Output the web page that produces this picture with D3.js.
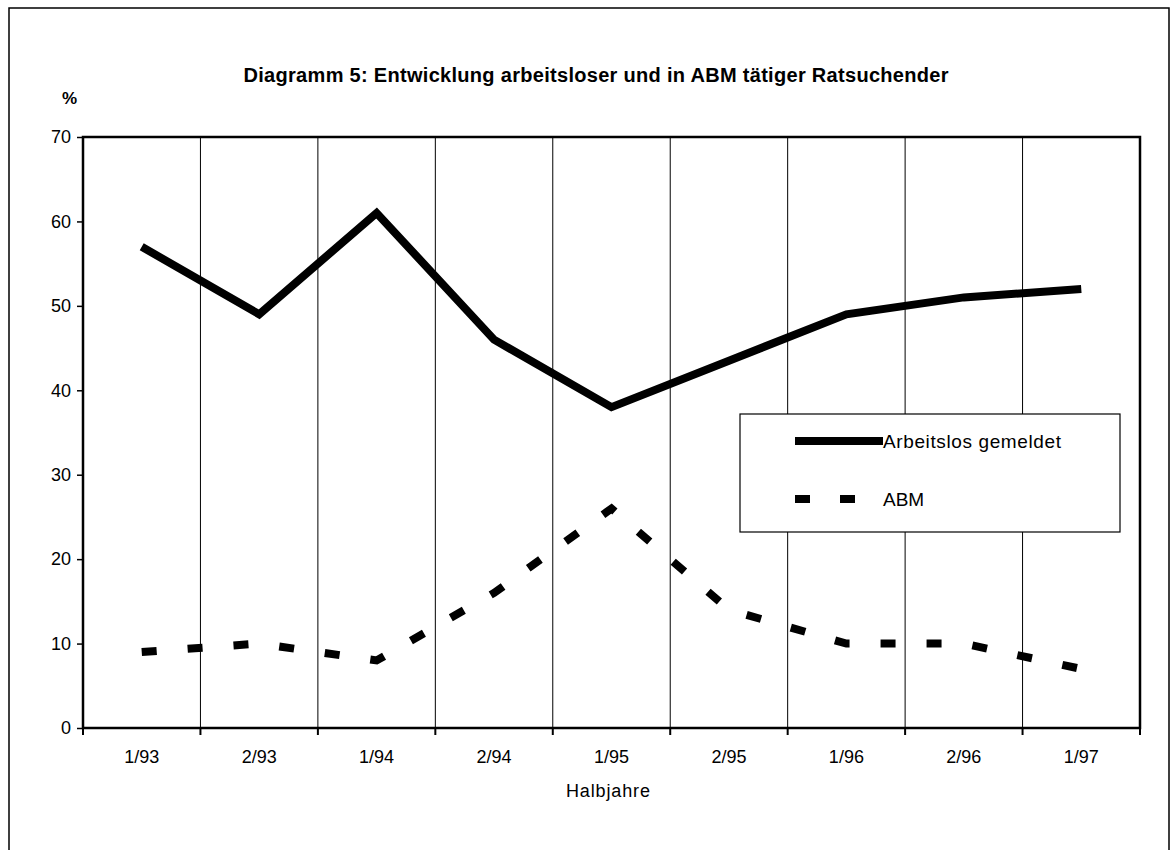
<!DOCTYPE html>
<html>
<head>
<meta charset="utf-8">
<script src="https://cdn.jsdelivr.net/npm/d3@7"></script>
<style>
  body { margin: 0; background: #fff; }
  svg { display: block; font-family: "Liberation Sans", Arial, Helvetica, sans-serif; }
</style>
</head>
<body>
<div id="chart"></div>
<script>
// data
var halbjahre = ["1/93", "2/93", "1/94", "2/94", "1/95", "2/95", "1/96", "2/96", "1/97"];
var arbeitslos = [57, 49, 61, 46, 38, 43.5, 49, 51, 52];
var abm = [9, 10, 8, 16, 26, 14, 10, 10, 7];
var yTicks = [0, 10, 20, 30, 40, 50, 60, 70];

function drawChart(id) {
  var W = 1176, H = 850;
  var pLeft = 83, pRight = 1140, pTop = 137, pBottom = 728;

  var svg = d3.select(id).append("svg")
      .attr("width", W)
      .attr("height", H);

  // page frame (scan border)
  svg.append("path")
      .attr("d", "M9,852 L9,8 L1169,8 L1169,852")
      .attr("fill", "none")
      .attr("stroke", "#000")
      .attr("stroke-width", 1.5);

  var x = d3.scaleBand()
      .domain(halbjahre)
      .range([pLeft, pRight])
      .padding(0);

  var y = d3.scaleLinear()
      .domain([0, 70])
      .range([pBottom, pTop]);

  // vertical grid lines between half years
  var bounds = halbjahre.map(function(d) { return x(d); }).concat([pRight]);
  svg.selectAll(".grid")
    .data(bounds.slice(1, -1))
    .enter().append("line")
      .attr("class", "grid")
      .attr("x1", function(d) { return d; })
      .attr("x2", function(d) { return d; })
      .attr("y1", pTop)
      .attr("y2", pBottom)
      .attr("stroke", "#000")
      .attr("stroke-width", 1);

  // plot frame
  svg.append("rect")
      .attr("x", pLeft)
      .attr("y", pTop)
      .attr("width", pRight - pLeft)
      .attr("height", pBottom - pTop)
      .attr("fill", "none")
      .attr("stroke", "#000")
      .attr("stroke-width", 2.5);

  // y axis
  var yAxis = svg.append("g")
      .attr("transform", "translate(" + pLeft + ",0)")
      .call(d3.axisLeft(y).tickValues(yTicks).tickSize(6).tickPadding(6));
  yAxis.select(".domain").remove();
  yAxis.selectAll("line").attr("stroke-width", 1.5);
  yAxis.selectAll("text")
      .attr("font-size", 18)
      .attr("font-family", "Liberation Sans, Arial, sans-serif")
      .attr("fill", "#000");

  // x axis: labels centred in each band, ticks on the boundaries
  var xAxis = svg.append("g")
      .attr("transform", "translate(0," + pBottom + ")")
      .call(d3.axisBottom(x).tickSize(0).tickPadding(22));
  xAxis.select(".domain").remove();
  xAxis.selectAll("text")
      .attr("font-size", 18)
      .attr("font-family", "Liberation Sans, Arial, sans-serif")
      .attr("fill", "#000");

  svg.selectAll(".xtick")
    .data(bounds)
    .enter().append("line")
      .attr("class", "xtick")
      .attr("x1", function(d) { return d; })
      .attr("x2", function(d) { return d; })
      .attr("y1", pBottom)
      .attr("y2", pBottom + 7)
      .attr("stroke", "#000")
      .attr("stroke-width", 2);

  // lines
  var line = d3.line()
      .x(function(d, i) { return x(halbjahre[i]) + x.bandwidth() / 2; })
      .y(function(d) { return y(d); });

  svg.append("path")
      .datum(arbeitslos)
      .attr("d", line)
      .attr("fill", "none")
      .attr("stroke", "#000")
      .attr("stroke-width", 8)
      .attr("stroke-linejoin", "miter");

  svg.append("path")
      .datum(abm)
      .attr("d", line)
      .attr("fill", "none")
      .attr("stroke", "#000")
      .attr("stroke-width", 8)
      .attr("stroke-dasharray", "15,31");

  // legend
  var lg = svg.append("g").attr("transform", "translate(740,414)");
  lg.append("rect")
      .attr("width", 380)
      .attr("height", 118)
      .attr("fill", "#fff")
      .attr("stroke", "#000")
      .attr("stroke-width", 1.2);
  lg.append("line")
      .attr("x1", 55).attr("x2", 143)
      .attr("y1", 27).attr("y2", 27)
      .attr("stroke", "#000").attr("stroke-width", 8);
  lg.append("text")
      .attr("x", 143).attr("y", 34)
      .attr("font-size", 19)
      .attr("textLength", 178)
      .text("Arbeitslos gemeldet");
  lg.append("line")
      .attr("x1", 55).attr("x2", 118)
      .attr("y1", 85).attr("y2", 85)
      .attr("stroke", "#000").attr("stroke-width", 8)
      .attr("stroke-dasharray", "15,30");
  lg.append("text")
      .attr("x", 143).attr("y", 92)
      .attr("font-size", 19)
      .text("ABM");

  // titles
  svg.append("text")
      .attr("x", 596)
      .attr("y", 82)
      .attr("text-anchor", "middle")
      .attr("font-size", 20)
      .attr("font-weight", "bold")
      .attr("textLength", 705)
      .text("Diagramm 5: Entwicklung arbeitsloser und in ABM tätiger Ratsuchender");

  svg.append("text")
      .attr("x", 62)
      .attr("y", 104)
      .attr("font-size", 17)
      .attr("font-weight", "bold")
      .text("%");

  svg.append("text")
      .attr("x", 608)
      .attr("y", 797)
      .attr("text-anchor", "middle")
      .attr("font-size", 18)
      .attr("textLength", 84)
      .text("Halbjahre");
}

drawChart("#chart");
</script>
</body>
</html>
